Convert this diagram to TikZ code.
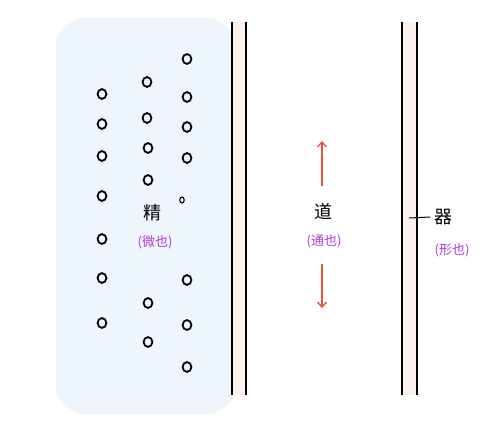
\documentclass[tikz,border=0pt]{standalone}
\usepackage{fontspec}
\newfontfamily\cjk{Noto Sans CJK SC}
\usepackage{xcolor}
\usetikzlibrary{arrows.meta,calc,positioning}
\definecolor{mist}{HTML}{EEF5FC}
\definecolor{blush}{HTML}{FDF1EE}
\definecolor{violet}{HTML}{B23AD2}
\definecolor{ember}{HTML}{E8503C}
\begin{document}
\begin{tikzpicture}[x=1pt,y=-1pt,
  wall/.style={line width=1.7pt,black},
  grain/.style={line width=1.8pt,black},
  word/.style={font=\cjk\fontsize{18}{18}\selectfont},
  gloss/.style={font=\cjk\fontsize{13}{13}\selectfont,text=violet},
  flow/.style={-{Straight Barb[length=5pt,width=9pt]},line width=1.3pt,ember}]
\useasboundingbox (0,0) rectangle (492,426);
% blue body on the left
\fill[mist,rounded corners=30pt] (56,18) rectangle (236,414);
% the two walls, with a pale strip between each pair
\foreach \xa/\xb in {232/246,402/417}{
  \fill[blush] (\xa,22) rectangle (\xb,395);
  \draw[wall] (\xa,22)--(\xa,395);
  \draw[wall] (\xb,22)--(\xb,395);
}
% particles
\foreach \px/\py in {102/94,102/124,102/156,102/196,102/239,102/278,102/323,
                     147/82,147/118,148/148,148/180,148/303,148/342,
                     187/59,187/97,187/127,187/158,187/280,187/325,187/367}
  \draw[grain] (\px,\py) ellipse (4.4 and 4.9);
\draw[line width=1.1pt] (182,200) ellipse (2.2 and 3);
% labels
\node[word] (jing) at (152,213) {精};
\node[gloss] (jingg) at (155,242) {(微也)};
\node[word] (dao) at (323,212) {道};
\node[gloss] (daog) at (324,241) {(通也)};
\node[word] (qi) at (443,217) {器};
\node[gloss] (qig) at (452,250) {(形也)};
% flow arrows
\coordinate (upA) at (322,186);
\coordinate (upB) at (322,141);
\coordinate (dnA) at (322,264);
\coordinate (dnB) at (322,308);
\draw[flow] (upA)--(upB);
\draw[flow] (dnA)--(dnB);
% pointer to the wall
\coordinate (tick) at (409,218);
\draw[line width=1pt] (tick)--(qi.west);
\end{tikzpicture}
\end{document}
